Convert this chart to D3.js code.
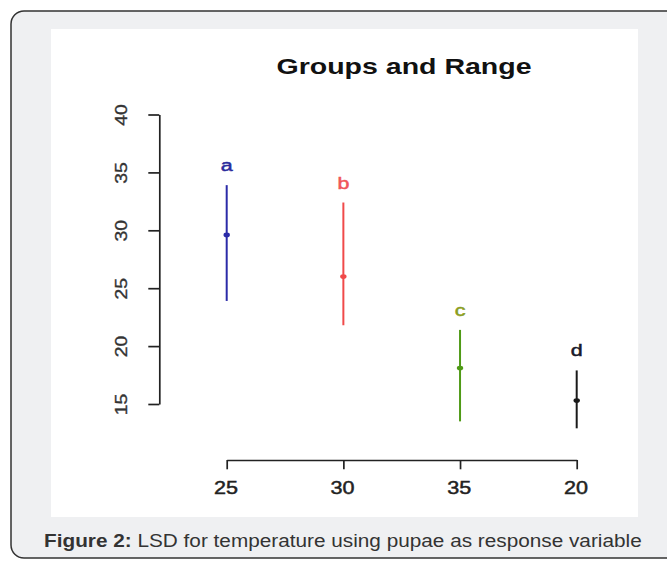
<!DOCTYPE html>
<html>
<head>
<meta charset="utf-8">
<script src="https://cdn.jsdelivr.net/npm/d3@7"></script>
<style>
  html, body { margin: 0; padding: 0; background: #ffffff; }
  svg { display: block; }
</style>
</head>
<body>
<svg id="chart" width="667" height="563"></svg>
<script>
// ---- data ----
const categories = ["25", "30", "35", "20"];
const groups = ["a", "b", "c", "d"];
const means = [29.6, 26.0, 18.1, 15.3];
const mins = [23.9, 21.8, 13.5, 12.9];
const maxs = [33.9, 32.4, 21.4, 17.9];
const yTicks = [15, 20, 25, 30, 35, 40];
const colors = ["#2b2ba8", "#f04a4a", "#4f9a16", "#1a1a1a"];
const labelColors = ["#2a2a9c", "#f0555a", "#8a9e1e", "#1a1a2a"];
const title = "Groups and Range";
const captionBold = "Figure 2:";
const captionText = " LSD for temperature using pupae as response variable";

const svg = d3.select("#chart");
const SX = 1.3; // horizontal stretch of the original raster

// outer frame
svg.append("rect").attr("x", 11).attr("y", 11).attr("width", 680).attr("height", 547)
  .attr("rx", 13).attr("ry", 13)
  .attr("fill", "#eff0f2").attr("stroke", "#333").attr("stroke-width", 1.5);
// white plot panel
svg.append("rect").attr("x", 51).attr("y", 29).attr("width", 587).attr("height", 488)
  .attr("fill", "#ffffff");

// scales
const y = d3.scaleLinear().domain([15, 40]).range([404, 114.5]);
const x = d3.scalePoint().domain(categories).range([226.7, 576.7]);

// y axis
const gy = svg.append("g").attr("transform", "translate(159.3,0)")
  .call(d3.axisLeft(y).tickValues(yTicks).tickSize(11).tickSizeOuter(0).tickFormat(d3.format("d")));
gy.select(".domain").attr("stroke", "#222").attr("stroke-width", 1.7);
gy.selectAll(".tick line").attr("stroke", "#222").attr("stroke-width", 1.7);
gy.selectAll(".tick text")
  .attr("x", null).attr("dy", null)
  .attr("transform", "translate(-32,0) rotate(-90)")
  .attr("text-anchor", "middle")
  .attr("font-family", "Liberation Sans, Arial, sans-serif")
  .attr("font-size", 16)
  .attr("fill", "#333").attr("stroke", "#333").attr("stroke-width", 0.35)
  .attr("textLength", 21.5).attr("lengthAdjust", "spacingAndGlyphs");

// x axis
const gx = svg.append("g").attr("transform", "translate(0,460)")
  .call(d3.axisBottom(x).tickSize(9.3).tickSizeOuter(0));
gx.select(".domain").attr("stroke", "#222").attr("stroke-width", 1.7);
gx.selectAll(".tick line").attr("stroke", "#222").attr("stroke-width", 1.7);
gx.selectAll(".tick text")
  .attr("y", 34.3).attr("dy", null).attr("x", -1.3)
  .attr("text-anchor", "middle")
  .attr("font-family", "Liberation Sans, Arial, sans-serif")
  .attr("font-size", 17.5)
  .attr("fill", "#222").attr("stroke", "#222").attr("stroke-width", 0.45)
  .attr("textLength", 24).attr("lengthAdjust", "spacingAndGlyphs");

// range lines
const data = categories.map((c, i) => ({ c, g: groups[i], mean: means[i], lo: mins[i], hi: maxs[i], col: colors[i], lc: labelColors[i] }));
svg.append("g").selectAll("line").data(data).join("line")
  .attr("x1", d => x(d.c)).attr("x2", d => x(d.c))
  .attr("y1", d => y(d.lo)).attr("y2", d => y(d.hi))
  .attr("stroke", d => d.col).attr("stroke-width", 2);
// mean points
svg.append("g").selectAll("ellipse").data(data).join("ellipse")
  .attr("cx", d => x(d.c)).attr("cy", d => y(d.mean))
  .attr("rx", 3.2).attr("ry", 2.4)
  .attr("fill", d => d.col);
// group letters
svg.append("g").selectAll("text").data(data).join("text")
  .attr("transform", d => `translate(${x(d.c)},${y(d.hi) - 14}) scale(${SX},1)`)
  .attr("text-anchor", "middle")
  .attr("font-family", "Liberation Sans, Arial, sans-serif")
  .attr("font-size", 16.5)
  .attr("fill", d => d.lc).attr("stroke", d => d.lc).attr("stroke-width", 0.5)
  .text(d => d.g);

// title
svg.append("text")
  .attr("x", 404).attr("y", 74.3)
  .attr("text-anchor", "middle")
  .attr("font-family", "Liberation Sans, Arial, sans-serif")
  .attr("font-weight", "bold")
  .attr("font-size", 22)
  .attr("fill", "#111")
  .attr("textLength", 255).attr("lengthAdjust", "spacingAndGlyphs")
  .text(title);

// caption
const cap = svg.append("text")
  .attr("x", 0).attr("y", 0)
  .attr("font-family", "Liberation Sans, Arial, sans-serif")
  .attr("font-size", 18.5)
  .attr("fill", "#333");
cap.append("tspan").attr("font-weight", "bold").text(captionBold);
cap.append("tspan").text(captionText);
const w = cap.node().getBBox().width;
cap.attr("transform", `translate(44,547) scale(${598 / w},1)`);
</script>
</body>
</html>
